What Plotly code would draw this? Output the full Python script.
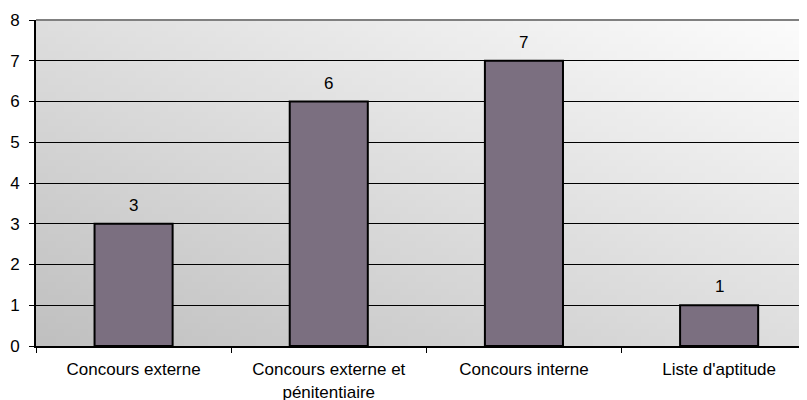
import base64
import struct
import zlib

import plotly.graph_objects as go

categories = ["Concours externe", "Concours externe et<br>pénitentiaire", "Concours interne", "Liste d'aptitude"]
values = [3, 6, 7, 1]
y_ticks = [0, 1, 2, 3, 4, 5, 6, 7, 8]

FONT = "Liberation Sans, Arial, sans-serif"


def gradient_png(w=96, h=48, c0=192, c1=252):
    rows = b""
    for j in range(h):
        v = 1 - j / (h - 1)
        row = b"\x00"
        for i in range(w):
            u = i / (w - 1)
            c = int(round(c0 + (c1 - c0) * (u + v) / 2))
            row += bytes([c, c, c])
        rows += row

    def chunk(tag, data):
        return struct.pack(">I", len(data)) + tag + data + struct.pack(">I", zlib.crc32(tag + data) & 0xFFFFFFFF)

    png = b"\x89PNG\r\n\x1a\n"
    png += chunk(b"IHDR", struct.pack(">IIBBBBB", w, h, 8, 2, 0, 0, 0))
    png += chunk(b"IDAT", zlib.compress(rows, 9))
    png += chunk(b"IEND", b"")
    return "data:image/png;base64," + base64.b64encode(png).decode()


fig = go.Figure()
fig.add_trace(go.Bar(
    x=categories,
    y=values,
    width=0.4,
    marker=dict(color="#7b6f80", line=dict(color="#000000", width=2)),
    hoverinfo="x+y",
))

for c, v in zip(categories, values):
    fig.add_annotation(
        x=c, y=v, text=str(v), showarrow=False,
        yanchor="bottom", yshift=7,
        font=dict(family=FONT, size=17, color="#000000"),
    )

fig.add_layout_image(dict(
    source=gradient_png(),
    xref="paper", yref="paper",
    x=0, y=1, sizex=1, sizey=1,
    sizing="stretch", layer="below",
))

fig.add_shape(type="line", xref="paper", yref="paper", x0=0, x1=1, y0=1, y1=1,
              line=dict(color="#808080", width=2), layer="above")

fig.update_layout(
    width=799, height=392,
    margin=dict(l=28, r=2, t=12, b=54),
    paper_bgcolor="#ffffff",
    plot_bgcolor="rgba(0,0,0,0)",
    showlegend=False,
    font=dict(family=FONT, size=17, color="#000000"),
    xaxis=dict(
        type="category",
        range=[-0.5, 3.44],
        tickson="boundaries",
        ticks="outside", ticklen=5, tickcolor="#000000", tickwidth=1,
        showline=True, linecolor="#000000", linewidth=2,
        showgrid=False,
        tickfont=dict(family=FONT, size=17),
        ticklabelstandoff=7,
        automargin=False,
    ),
    yaxis=dict(
        range=[0, 8],
        tickvals=y_ticks,
        ticks="outside", ticklen=5, tickcolor="#000000", tickwidth=1,
        showline=True, linecolor="#000000", linewidth=2,
        showgrid=True, gridcolor="#000000", gridwidth=1,
        zeroline=False,
        tickfont=dict(family=FONT, size=17),
        ticklabelstandoff=6,
        automargin=False,
    ),
)

fig.write_html("out.html")
